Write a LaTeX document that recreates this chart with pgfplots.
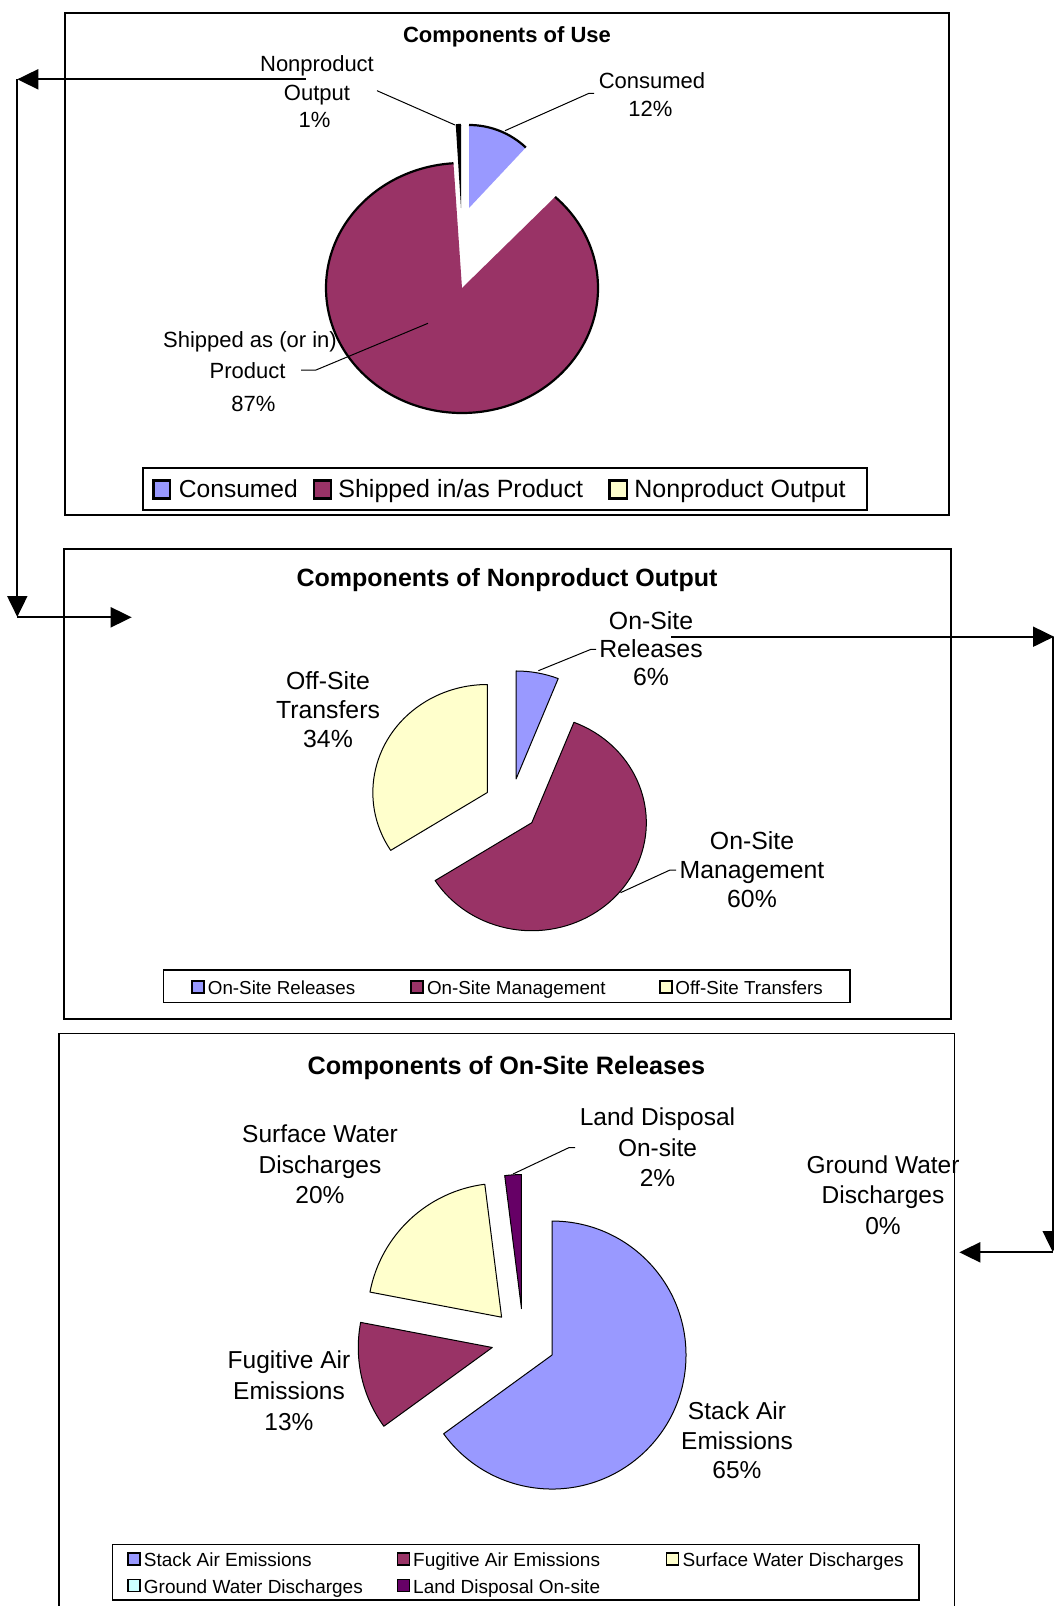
\documentclass[border=0pt]{standalone}
\usepackage{pgfplots}
\pgfplotsset{compat=1.18}
\usepackage{fontspec}
\setmainfont{Liberation Sans}
\usetikzlibrary{arrows.meta}
\definecolor{peri}{HTML}{9999FF}
\definecolor{plum}{HTML}{993366}
\definecolor{ivory}{HTML}{FFFFCC}
\definecolor{lturq}{HTML}{CCFFFF}
\definecolor{dpurp}{HTML}{660066}
% wedge: #1 cx, #2 cy (px), #3 explode (px), #4 rx, #5 ry (px), #6 cum%, #7 share%, #8 fill, #9 mode (0 full outline, 1 arc outline)
\newcommand{\pieslice}[9]{%
\pgfplotsextra{%
  \pgfmathsetmacro\aA{90-3.6*(#6)}%
  \pgfmathsetmacro\aB{90-3.6*((#6)+(#7))}%
  \pgfmathsetmacro\midang{(\aA+\aB)/2}%
  \pgfmathsetmacro\ax{#1+#3*cos(\midang)}%
  \pgfmathsetmacro\ay{#2-#3*sin(\midang)}%
  \pgfmathsetmacro\rxp{#4*0.5}%
  \pgfmathsetmacro\ryp{#5*0.5}%
  \ifnum#9=0
    \filldraw[fill=#8,draw=black,line width=0.5pt,line join=round] (axis cs:\ax,\ay) -- +(\aA:\rxp pt and \ryp pt) arc[start angle=\aA, end angle=\aB, x radius=\rxp pt, y radius=\ryp pt] -- cycle;
  \else
    \fill[#8] (axis cs:\ax,\ay) -- +(\aA:\rxp pt and \ryp pt) arc[start angle=\aA, end angle=\aB, x radius=\rxp pt, y radius=\ryp pt] -- cycle;
    \draw[line width=1.1pt] (axis cs:\ax,\ay) ++(\aA:\rxp pt and \ryp pt) arc[start angle=\aA, end angle=\aB, x radius=\rxp pt, y radius=\ryp pt];
  \fi
}}
\newcommand{\lbl}[4]{\node[anchor=mid,inner sep=0pt,font=\fontsize{#3}{#3}\selectfont] at (axis cs:#1,{#2+2.5}) {#4};}
\newcommand{\ttl}[4]{\node[anchor=mid,inner sep=0pt,font=\fontsize{#3}{#3}\selectfont\bfseries] at (axis cs:#1,{#2+2.5}) {#4};}
\newcommand{\lgt}[4]{\node[anchor=mid west,inner sep=0pt,font=\fontsize{#3}{#3}\selectfont] at (axis cs:#1,{#2+2.5}) {#4};}
\tikzset{arr/.style={line width=1pt,-{Triangle[length=10.5pt,width=10pt]}}}
\begin{document}
\begin{tikzpicture}
\begin{axis}[width=527pt,height=803pt,scale only axis,
  xmin=0,xmax=1054,ymin=0,ymax=1606,y dir=reverse,hide axis,clip=false]
\coordinate (TL) at (axis cs:0,0);
\coordinate (BR) at (axis cs:1054,1606);
% ---------------- Chart 1: Components of Use ----------------
\draw[line width=0.75pt] (axis cs:65,13) rectangle (axis cs:949,515);
\ttl{507}{35}{11}{Components of Use}
% data: Consumed 12, Shipped 87, Nonproduct 1
\pieslice{462}{288}{0}{136}{125}{12}{87}{plum}{1}
\pieslice{469}{208}{0}{83}{83}{0}{12}{peri}{1}
\pieslice{461}{208}{0}{83}{83}{99}{1}{black}{1}
\lbl{317}{64}{11}{Nonproduct}
\lbl{317}{92.3}{11}{Output}
\lbl{314.6}{120}{11}{1\%}
\lbl{652}{81}{11}{Consumed}
\lbl{650.4}{108.3}{11}{12\%}
\lbl{250}{339.3}{11}{Shipped as (or in)}
\lbl{247.6}{370.7}{11}{Product}
\lbl{253.4}{404}{11}{87\%}
\draw[line width=0.5pt] (axis cs:377,90.7) -- (axis cs:455,125);
\draw[line width=0.5pt] (axis cs:594,93.3) -- (axis cs:589,93.3) -- (axis cs:505,130.7);
\draw[line width=0.5pt] (axis cs:301,370) -- (axis cs:316,370) -- (axis cs:428,323.3);
\draw[line width=0.6pt] (axis cs:143,468) rectangle (axis cs:867,510);
\filldraw[fill=peri,draw=black,line width=1.1pt] (axis cs:153.5,480.5) rectangle (axis cs:170,498.5);
\lgt{178.5}{489.5}{12.3}{Consumed}
\filldraw[fill=plum,draw=black,line width=1.1pt] (axis cs:314,480.5) rectangle (axis cs:331,498.5);
\lgt{338}{489.5}{12.5}{Shipped in/as Product}
\filldraw[fill=ivory,draw=black,line width=1.1pt] (axis cs:609.5,480.5) rectangle (axis cs:627,498.5);
\lgt{634}{489.5}{12.5}{Nonproduct Output}
% arrows left
\draw[arr] (axis cs:306,79.3) -- (axis cs:17.3,79.3);
\draw[arr] (axis cs:17.3,79.3) -- (axis cs:17.3,617);
\draw[arr] (axis cs:17.3,617.3) -- (axis cs:131.7,617.3);
% ---------------- Chart 2: Components of Nonproduct Output ----------------
\draw[line width=0.75pt] (axis cs:64,549) rectangle (axis cs:951,1019);
\ttl{507}{579}{12.5}{Components of Nonproduct Output}
% data: On-Site Releases 6, On-Site Management 60, Off-Site Transfers 34
\pieslice{511}{805.5}{27}{114.5}{108}{0}{6}{peri}{0}
\pieslice{511}{805.5}{27}{114.5}{108}{6}{60}{plum}{0}
\pieslice{511}{805.5}{27}{114.5}{108}{66}{34}{ivory}{0}
\lbl{651}{622}{12.4}{On-Site}
\lbl{651}{650}{12.4}{Releases}
\lbl{651}{678}{12.4}{6\%}
\lbl{328}{682}{12.4}{Off-Site}
\lbl{328}{711}{12.4}{Transfers}
\lbl{328}{740}{12.4}{34\%}
\lbl{752}{842}{12.4}{On-Site}
\lbl{752}{871}{12.4}{Management}
\lbl{752}{900}{12.4}{60\%}
\draw[line width=0.5pt] (axis cs:596,649.3) -- (axis cs:591,649.3) -- (axis cs:538.4,670.7);
\draw[line width=0.5pt] (axis cs:676,870) -- (axis cs:670,870) -- (axis cs:620.5,892.7);
\draw[line width=0.6pt] (axis cs:163.5,970) rectangle (axis cs:850,1002.5);
\filldraw[fill=peri,draw=black,line width=0.75pt] (axis cs:192,981) rectangle (axis cs:204,993);
\lgt{207.5}{987}{9.4}{On-Site Releases}
\filldraw[fill=plum,draw=black,line width=0.75pt] (axis cs:411,981) rectangle (axis cs:423,993);
\lgt{426.6}{987}{9.4}{On-Site Management}
\filldraw[fill=ivory,draw=black,line width=0.75pt] (axis cs:660,981) rectangle (axis cs:672,993);
\lgt{675}{987}{9.4}{Off-Site Transfers}
% arrows right
\draw[arr] (axis cs:671,636.7) -- (axis cs:1054,636.7);
\draw[arr] (axis cs:1052.7,636.7) -- (axis cs:1052.7,1252);
\draw[arr] (axis cs:1052.7,1252.3) -- (axis cs:959.3,1252.3);
% ---------------- Chart 3: Components of On-Site Releases ----------------
\draw[line width=0.75pt] (axis cs:59,1612) -- (axis cs:59,1033.5) -- (axis cs:954.5,1033.5) -- (axis cs:954.5,1612);
\ttl{506.4}{1067}{12.6}{Components of On-Site Releases}
% data: Stack Air 65, Fugitive Air 13, Surface Water 20, Ground Water 0, Land Disposal 2
\pieslice{523.5}{1340.5}{32}{134}{134}{0}{65}{peri}{0}
\pieslice{523.5}{1340.5}{32}{134}{134}{65}{13}{plum}{0}
\pieslice{523.5}{1340.5}{32}{134}{134}{78}{20}{ivory}{0}
\pieslice{523.5}{1340.5}{32}{134}{134}{98}{2}{dpurp}{0}
\lbl{320}{1135}{12.25}{Surface Water}
\lbl{320}{1166}{12.25}{Discharges}
\lbl{320}{1195.4}{12.25}{20\%}
\lbl{657.5}{1117.5}{12.25}{Land Disposal}
\lbl{657.5}{1148.4}{12.25}{On-site}
\lbl{657.5}{1179}{12.25}{2\%}
\lbl{883}{1166}{12.25}{Ground Water}
\lbl{883}{1196}{12.25}{Discharges}
\lbl{883}{1226.7}{12.25}{0\%}
\lbl{289}{1361}{12.25}{Fugitive Air}
\lbl{289}{1392}{12.25}{Emissions}
\lbl{289}{1422.6}{12.25}{13\%}
\lbl{737}{1411.6}{12.25}{Stack Air}
\lbl{737}{1441.8}{12.25}{Emissions}
\lbl{737}{1471}{12.25}{65\%}
\draw[line width=0.5pt] (axis cs:575,1147.6) -- (axis cs:569,1147.6) -- (axis cs:513,1174);
\draw[line width=0.6pt] (axis cs:112.5,1544.6) rectangle (axis cs:919,1600);
\filldraw[fill=peri,draw=black,line width=0.75pt] (axis cs:128,1553) rectangle (axis cs:140,1565);
\lgt{143.5}{1559}{9.5}{Stack Air Emissions}
\filldraw[fill=plum,draw=black,line width=0.75pt] (axis cs:397.5,1553) rectangle (axis cs:409.5,1565);
\lgt{412.8}{1559}{9.5}{Fugitive Air Emissions}
\filldraw[fill=ivory,draw=black,line width=0.75pt] (axis cs:666.5,1553) rectangle (axis cs:678.5,1565);
\lgt{682.2}{1559}{9.5}{Surface Water Discharges}
\filldraw[fill=lturq,draw=black,line width=0.75pt] (axis cs:128,1579.5) rectangle (axis cs:140,1591.5);
\lgt{143.5}{1585.5}{9.5}{Ground Water Discharges}
\filldraw[fill=dpurp,draw=black,line width=0.75pt] (axis cs:397.5,1579.5) rectangle (axis cs:409.5,1591.5);
\lgt{412.8}{1585.5}{9.5}{Land Disposal On-site}
\end{axis}
\pgfresetboundingbox
\path (TL) rectangle (BR);
\end{tikzpicture}
\end{document}
